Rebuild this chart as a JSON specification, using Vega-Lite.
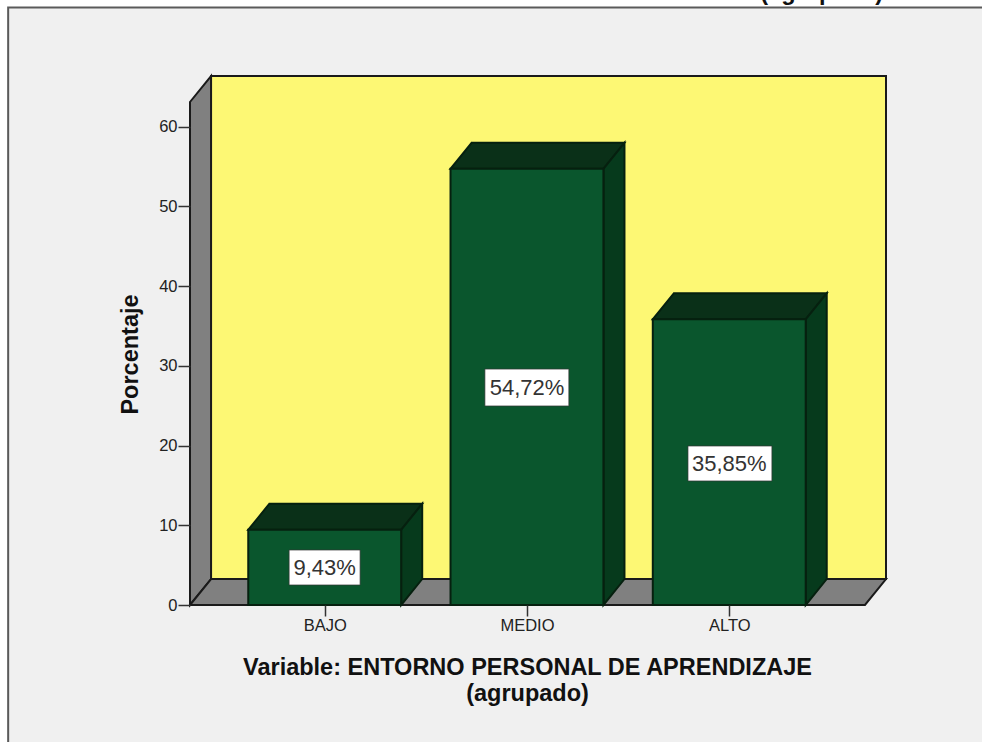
{
"$schema":"https://vega.github.io/schema/vega-lite/v6.json",
"width":696,"height":529,
"autosize":"none",
"padding":{"left":190,"top":76,"right":96,"bottom":137},
"background":"#ffffff",
"config":{"font":"Liberation Sans","view":{"stroke":null}},
"datasets":{
"bars":[{"cat":"BAJO","c":1,"l":0.622,"r":1.378,"z":0,"v":9.43},{"cat":"MEDIO","c":2,"l":1.622,"r":2.378,"z":0,"v":54.72},{"cat":"ALTO","c":3,"l":2.622,"r":3.378,"z":0,"v":35.85}],
"tops":[
{"cat":"BAJO","y":9.43,"xl":0.622,"xr":1.378},{"cat":"BAJO","y":12.69,"xl":0.726,"xr":1.482},
{"cat":"MEDIO","y":54.72,"xl":1.622,"xr":2.378},{"cat":"MEDIO","y":57.98,"xl":1.726,"xr":2.482},
{"cat":"ALTO","y":35.85,"xl":2.622,"xr":3.378},{"cat":"ALTO","y":39.11,"xl":2.726,"xr":3.482}],
"sides":[
{"cat":"BAJO","x":1.378,"y0":0,"y1":9.43},{"cat":"BAJO","x":1.482,"y0":3.26,"y1":12.69},
{"cat":"MEDIO","x":2.378,"y0":0,"y1":54.72},{"cat":"MEDIO","x":2.482,"y0":3.26,"y1":57.98},
{"cat":"ALTO","x":3.378,"y0":0,"y1":35.85},{"cat":"ALTO","x":3.482,"y0":3.26,"y1":39.11}],
"labels":[
{"t":"9,43%","c":1,"xl":0.824,"xr":1.175,"yl":2.51,"yh":6.9,"ym":4.6},
{"t":"54,72%","c":2,"xl":1.792,"xr":2.207,"yl":24.97,"yh":29.6,"ym":27.2},
{"t":"35,85%","c":3,"xl":2.796,"xr":3.211,"yl":15.56,"yh":19.95,"ym":17.65}]
},
"layer":[
{"data":{"values":[{"a":-0.565,"b":4.3,"y0":-18,"y1":74.95}]},
 "mark":{"type":"rect","fill":"#f0f0f0","stroke":"#5a5a5a","strokeWidth":2},
 "encoding":{"x":{"field":"a","type":"quantitative","scale":{"domain":[0.334,3.775],"nice":false,"zero":false},
   "axis":{"zindex":1,"values":[1,2,3],"labelExpr":"datum.value==1?'BAJO':datum.value==2?'MEDIO':'ALTO'","grid":false,"domain":false,"tickSize":11,"tickColor":"#333333","tickWidth":1.5,"labelFontSize":16.5,"labelColor":"#222222","labelPadding":1,"labelFlush":false,"labelOverlap":false,
     "title":["Variable: ENTORNO PERSONAL DE APRENDIZAJE","(agrupado)"],"titleFontSize":23.5,"titleFontWeight":"bold","titleColor":"#111111","titleX":337,"titleY":50,"titleBaseline":"top","titleLineHeight":26}},
  "x2":{"field":"b"},
  "y":{"field":"y0","type":"quantitative","scale":{"domain":[0,66.37],"nice":false,"zero":false},
   "axis":{"zindex":1,"values":[0,10,20,30,40,50,60],"grid":false,"domain":false,"tickSize":12,"tickColor":"#333333","tickWidth":1.5,"labelFontSize":16.5,"labelColor":"#222222","labelPadding":1,"labelFlush":false,
     "title":"Porcentaje","titleFontSize":23.5,"titleFontWeight":"bold","titleColor":"#111111","titleX":-48,"titleY":278}},
  "y2":{"field":"y1"}}},
{"data":{"values":[{"t":"Variable: ENTORNO PERSONAL DE APRENDIZAJE (agrupado)","x":3.76,"y":75.9}]},
 "mark":{"type":"text","fontSize":23.5,"fontWeight":"bold","color":"#111111","baseline":"alphabetic","align":"right"},
 "encoding":{"x":{"field":"x","type":"quantitative"},"y":{"field":"y","type":"quantitative"},"text":{"field":"t","type":"nominal"}}},
{"data":{"values":[{"a":0.438,"b":3.775,"y0":3.26,"y1":66.37}]},
 "mark":{"type":"rect","fill":"#fdf874","stroke":"#1a1a1a","strokeWidth":2},
 "encoding":{"x":{"field":"a","type":"quantitative"},"x2":{"field":"b"},"y":{"field":"y0","type":"quantitative"},"y2":{"field":"y1"}}},
{"data":{"values":[{"x":0.334,"y0":0,"y1":63.11},{"x":0.438,"y0":3.26,"y1":66.37}]},
 "mark":{"type":"area","orient":"vertical","fill":"#808080","stroke":"#1a1a1a","strokeWidth":2},
 "encoding":{"x":{"field":"x","type":"quantitative"},"y":{"field":"y0","type":"quantitative"},"y2":{"field":"y1"}}},
{"data":{"values":[{"y":0,"xl":0.334,"xr":3.671},{"y":3.26,"xl":0.438,"xr":3.775}]},
 "mark":{"type":"area","orient":"horizontal","fill":"#808080","stroke":"#1a1a1a","strokeWidth":2},
 "encoding":{"y":{"field":"y","type":"quantitative"},"x":{"field":"xl","type":"quantitative"},"x2":{"field":"xr"}}},
{"data":{"name":"tops"},
 "mark":{"type":"area","orient":"horizontal","fill":"#0a3018","stroke":"#06200f","strokeWidth":2},
 "encoding":{"detail":{"field":"cat","type":"nominal"},"y":{"field":"y","type":"quantitative"},"x":{"field":"xl","type":"quantitative"},"x2":{"field":"xr"}}},
{"data":{"name":"sides"},
 "mark":{"type":"area","orient":"vertical","fill":"#063a1c","stroke":"#06200f","strokeWidth":2},
 "encoding":{"detail":{"field":"cat","type":"nominal"},"x":{"field":"x","type":"quantitative"},"y":{"field":"y0","type":"quantitative"},"y2":{"field":"y1"}}},
{"data":{"name":"bars"},
 "mark":{"type":"rect","fill":"#0a562d","stroke":"#06200f","strokeWidth":2},
 "encoding":{"x":{"field":"l","type":"quantitative"},"x2":{"field":"r"},"y":{"field":"z","type":"quantitative"},"y2":{"field":"v"}}},
{"data":{"name":"labels"},
 "mark":{"type":"rect","fill":"#ffffff","stroke":"#333333","strokeWidth":0.7},
 "encoding":{"x":{"field":"xl","type":"quantitative"},"x2":{"field":"xr"},"y":{"field":"yl","type":"quantitative"},"y2":{"field":"yh"}}},
{"data":{"name":"labels"},
 "mark":{"type":"text","fontSize":22,"color":"#333333","align":"center","baseline":"middle"},
 "encoding":{"x":{"field":"c","type":"quantitative"},"y":{"field":"ym","type":"quantitative"},"text":{"field":"t","type":"nominal"}}}
]
}
